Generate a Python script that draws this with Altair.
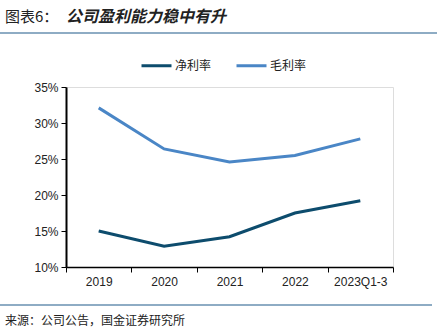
import altair as alt
import pandas as pd

years = ["2019", "2020", "2021", "2022", "2023Q1-3"]
net_margin = [0.150, 0.129, 0.142, 0.175, 0.192]
gross_margin = [0.321, 0.264, 0.246, 0.255, 0.278]
series_names = ["净利率", "毛利率"]
colors = ["#0D4C6D", "#4A86C6"]

rows = []
for y, v in zip(years, net_margin):
    rows.append({"year": y, "series": series_names[0], "value": v})
for y, v in zip(years, gross_margin):
    rows.append({"year": y, "series": series_names[1], "value": v})
df = pd.DataFrame(rows)

W, H = 327, 180
PL, PT = 66, 87

lines = alt.Chart(df).mark_line(strokeWidth=3).encode(
    x=alt.X("year:N", sort=years, title=None,
            scale=alt.Scale(paddingInner=0, paddingOuter=0),
            axis=alt.Axis(labelAngle=0, tickBand="extent", domainColor="#000000",
                          domainWidth=1.5, tickColor="#000000", tickSize=5,
                          labelFont="Liberation Sans", labelFontSize=12,
                          labelColor="#222222", labelPadding=4)),
    y=alt.Y("value:Q", title=None,
            scale=alt.Scale(domain=[0.10, 0.35], nice=False, zero=False),
            axis=alt.Axis(format=".0%", values=[0.10, 0.15, 0.20, 0.25, 0.30, 0.35],
                          grid=False, domainColor="#000000", domainWidth=2,
                          tickColor="#000000", tickSize=5,
                          labelFont="Liberation Sans", labelFontSize=12,
                          labelColor="#222222", labelPadding=3)),
    color=alt.Color("series:N", sort=series_names,
                    scale=alt.Scale(domain=series_names, range=colors),
                    legend=alt.Legend(title=None, orient="none", direction="horizontal",
                                      legendX=74, legendY=-38,
                                      symbolType="stroke", symbolSize=900,
                                      symbolStrokeWidth=3, columnPadding=18,
                                      labelFont="Noto Sans CJK SC", labelFontSize=12,
                                      labelColor="#222222", labelOffset=2)),
)

deco = pd.DataFrame({"k": [0]})
top_rule = alt.Chart(deco).mark_rule(color="#1F5A8A", strokeWidth=1.2).encode(
    x=alt.value(-PL), x2=alt.value(437 - PL), y=alt.value(33 - PT))
bottom_rule = alt.Chart(deco).mark_rule(color="#1F5A8A", strokeWidth=1.2).encode(
    x=alt.value(-PL), x2=alt.value(432 - PL), y=alt.value(305 - PT))
title1 = alt.Chart(deco).mark_text(text="图表6：", align="left", baseline="middle",
                                   font="Noto Sans CJK SC", fontSize=15,
                                   color="#222222").encode(
    x=alt.value(5 - PL), y=alt.value(17 - PT))
title2 = alt.Chart(deco).mark_text(text="公司盈利能力稳中有升", align="left",
                                   baseline="middle", font="Noto Sans CJK SC",
                                   fontSize=16, fontWeight="bold", fontStyle="italic",
                                   color="#222222").encode(
    x=alt.value(66 - PL), y=alt.value(17 - PT))
source = alt.Chart(deco).mark_text(text="来源：公司公告，国金证券研究所", align="left",
                                   baseline="middle", font="Noto Sans CJK SC",
                                   fontSize=12, color="#222222").encode(
    x=alt.value(5 - PL), y=alt.value(321 - PT))

chart = alt.layer(lines, top_rule, bottom_rule, title1, title2, source).properties(
    width=W, height=H,
    autosize=alt.AutoSizeParams(type="none"),
    padding={"left": PL, "top": PT, "right": 437 - PL - W, "bottom": 335 - PT - H},
).configure_view(stroke="#C8C8C8", strokeWidth=1).configure(background="white")

chart.save("out.html", embed_options={"renderer": "svg", "actions": False})
